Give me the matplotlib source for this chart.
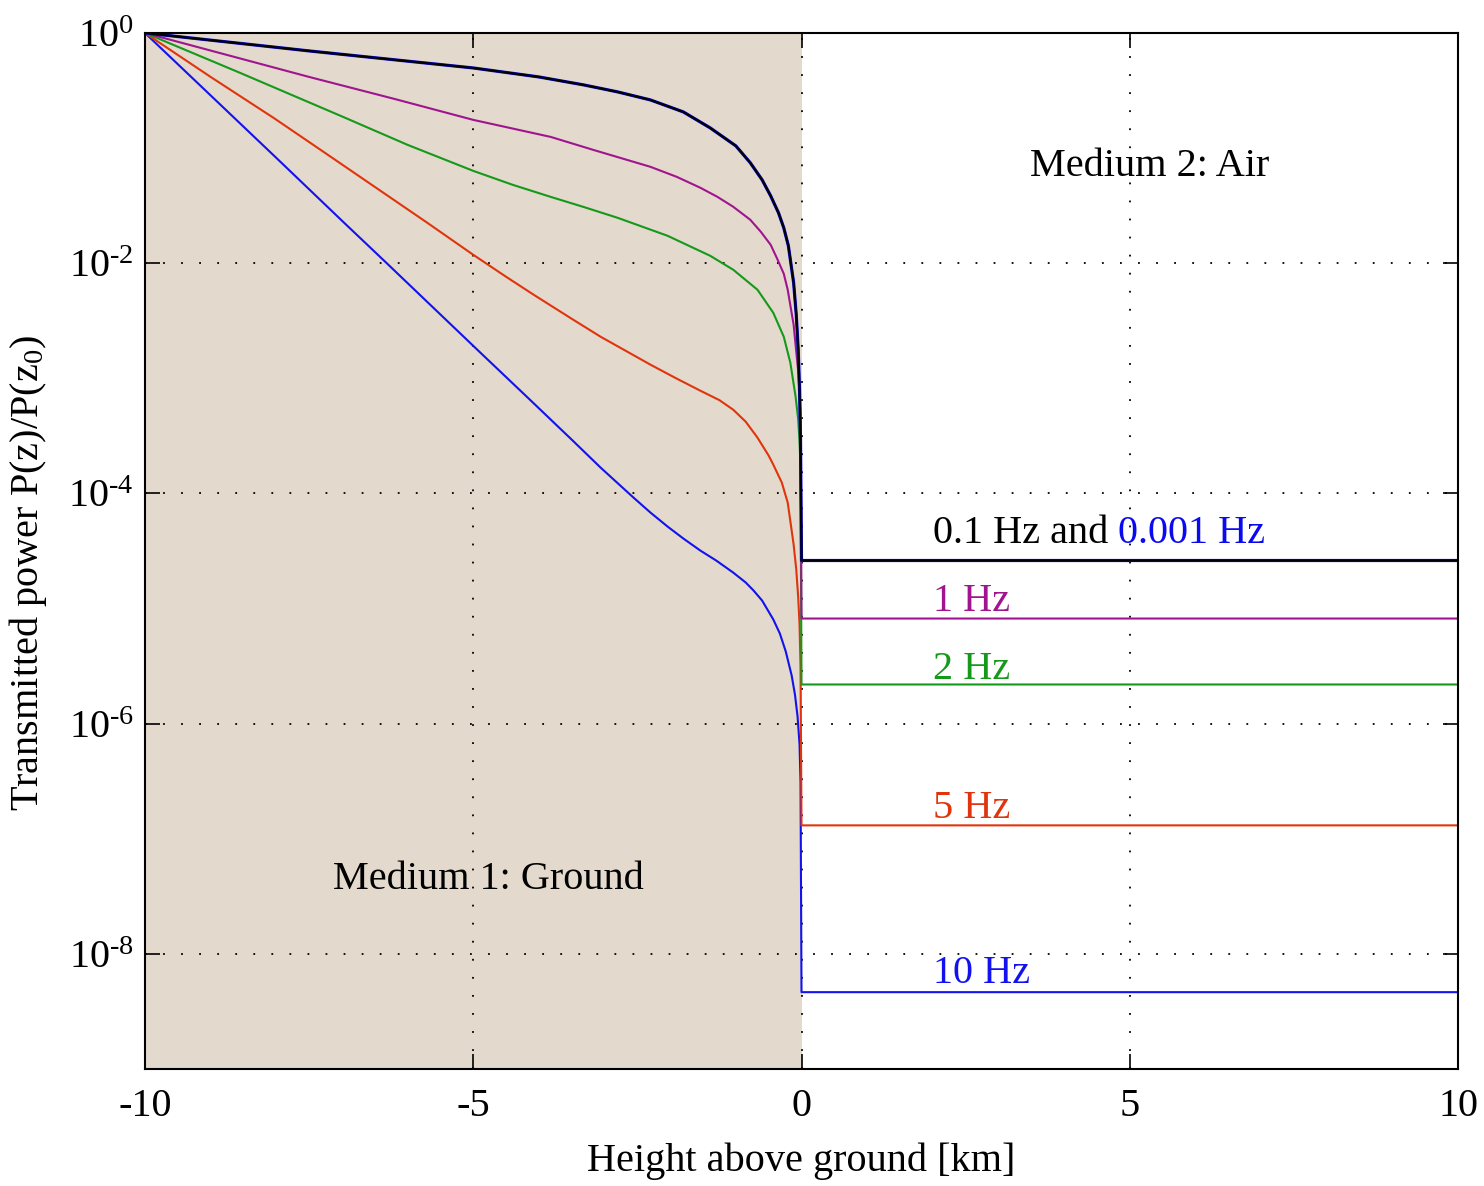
import numpy as np
import matplotlib
matplotlib.use("Agg")
import matplotlib.pyplot as plt
from matplotlib.ticker import NullLocator

plt.rcParams['font.family'] = ['Liberation Serif', 'DejaVu Serif']
plt.rcParams['mathtext.fontset'] = 'custom'
plt.rcParams['mathtext.rm'] = 'Liberation Serif'
plt.rcParams['mathtext.it'] = 'Liberation Serif:italic'

# height above ground [km] and log10 of P(z)/P(z0) for each frequency
z_01 = [-10.0, -7.5, -5.0, -4.0, -3.32, -2.8, -2.3, -1.8, -1.39, -1.0, -0.78, -0.6, -0.47,
        -0.35, -0.27, -0.2, -0.12, -0.08, -0.05, -0.03, -0.015, 0.0, 10.0]
lp_01 = [0.0, -0.156, -0.304, -0.382, -0.451, -0.512, -0.582, -0.686, -0.825, -0.981, -1.128,
         -1.276, -1.415, -1.563, -1.693, -1.849, -2.170, -2.448, -2.752, -3.099, -3.533,
         -4.583, -4.583]

z_1 = [-10.0, -8.75, -7.5, -6.2, -5.0, -3.82, -3.17, -2.3, -1.9, -1.54, -1.28, -1.04, -0.78,
       -0.62, -0.47, -0.37, -0.27, -0.21, -0.12, -0.05, -0.015, 0.0, 10.0]
lp_1 = [0.0, -0.191, -0.382, -0.573, -0.755, -0.903, -1.016, -1.163, -1.250, -1.345, -1.424,
        -1.510, -1.623, -1.727, -1.840, -1.962, -2.092, -2.231, -2.535, -2.943, -3.273,
        -5.087, -5.087]

z_2 = [-10.0, -8.55, -7.02, -6.0, -5.5, -5.0, -4.4, -3.82, -3.3, -2.8, -2.04, -1.39, -1.04,
       -0.67, -0.43, -0.27, -0.17, -0.09, -0.05, -0.03, -0.015, 0.0, 10.0]
lp_2 = [0.0, -0.347, -0.720, -0.972, -1.085, -1.198, -1.319, -1.424, -1.515, -1.606, -1.762,
        -1.936, -2.057, -2.231, -2.431, -2.639, -2.865, -3.160, -3.359, -3.550, -3.767,
        -5.660, -5.660]

z_5 = [-10.0, -9.0, -8.04, -7.37, -6.5, -5.7, -5.0, -4.5, -4.08, -3.5, -3.06, -2.6, -2.3, -1.9,
       -1.54, -1.25, -1.04, -0.85, -0.67, -0.5, -0.43, -0.3, -0.21, -0.12, -0.08, -0.05, -0.03,
       -0.015, 0.0, 10.0]
lp_5 = [0.0, -0.382, -0.738, -0.998, -1.337, -1.649, -1.927, -2.118, -2.274, -2.483, -2.639,
        -2.786, -2.882, -3.003, -3.108, -3.190, -3.273, -3.377, -3.516, -3.672, -3.750, -3.906,
        -4.080, -4.444, -4.661, -4.905, -5.139, -5.503, -6.884, -6.884]

z_10 = [-10.0, -8.0, -6.95, -6.34, -4.89, -4.17, -3.5, -3.06, -2.56, -2.3, -2.04, -1.8, -1.54,
        -1.3, -1.04, -0.85, -0.73, -0.6, -0.43, -0.33, -0.24, -0.15, -0.1, -0.06, -0.03, -0.015,
        0.0, 10.0]
lp_10 = [0.0, -1.085, -1.658, -1.988, -2.778, -3.168, -3.533, -3.776, -4.036, -4.167, -4.288,
         -4.392, -4.497, -4.583, -4.688, -4.774, -4.844, -4.931, -5.095, -5.217, -5.373, -5.582,
         -5.747, -5.938, -6.181, -6.510, -8.333, -8.333]

col_01 = '#000000'
col_001 = '#0a0aef'
col_1 = '#a0148f'
col_2 = '#15991a'
col_5 = '#e0350c'
col_10 = '#1212ee'
ground = '#e3d9cc'

fig = plt.figure(figsize=(14.84, 11.86), dpi=100)
ax = fig.add_axes([0.0977, 0.0987, 0.8848, 0.8735])

ax.axvspan(-10, 0, color=ground, zorder=0, lw=0)

kw = dict(lw=1.5, zorder=3, solid_joinstyle='round')
ax.semilogy(z_10, 10.0 ** np.array(lp_10), color=col_10, **kw)
ax.semilogy(z_5, 10.0 ** np.array(lp_5), color=col_5, **kw)
ax.semilogy(z_2, 10.0 ** np.array(lp_2), color=col_2, **kw)
ax.semilogy(z_1, 10.0 ** np.array(lp_1), color=col_1, **kw)
# 0.001 Hz lies under the 0.1 Hz curve
ax.semilogy(z_01, 10.0 ** np.array(lp_01), color=col_001, lw=2.3, zorder=3,
            solid_joinstyle='round')
ax.semilogy(z_01, 10.0 ** np.array(lp_01), color=col_01, lw=1.6, zorder=4,
            solid_joinstyle='round')

ax.set_xlim(-10, 10)
ax.set_ylim(1e-9, 1)
ax.set_xticks([-10, -5, 0, 5, 10])
ax.set_xticklabels(['-10', '-5', '0', '5', '10'])
ax.set_yticks([1e0, 1e-2, 1e-4, 1e-6, 1e-8])
ax.set_yticklabels(['$10^{0}$', '$10^{\\text{-}2}$', '$10^{\\text{-}4}$',
                    '$10^{\\text{-}6}$', '$10^{\\text{-}8}$'])
ax.yaxis.set_minor_locator(NullLocator())
ax.tick_params(direction='in', length=11, width=1.2, top=True, right=True,
               labelsize=29, colors='black')
ax.tick_params(axis='x', pad=14)
ax.tick_params(axis='y', pad=8)
ax.grid(True, color='black', linestyle=(0, (1, 9)), linewidth=1.3)

for s in ax.spines.values():
    s.set_linewidth(1.5)
    s.set_zorder(5)

ax.set_xlabel('Height above ground [km]', fontsize=29, labelpad=12)
ax.set_ylabel('Transmitted power P(z)/P(z$_0$)', fontsize=29)
ax.yaxis.set_label_coords(-0.073, 0.479)

fs = 29
ax.text(5.3, 5.74e-2, 'Medium 2: Air', fontsize=fs, ha='center', va='baseline')
ax.text(-4.77, 3.64e-8, 'Medium 1: Ground', fontsize=fs, ha='center', va='baseline')
t = ax.text(2.0, 3.74e-5, '0.1 Hz and', fontsize=fs, color=col_01, ha='left', va='baseline')
ax.annotate('0.001 Hz', xy=(1, 0), xycoords=t, xytext=(7, 0), textcoords='offset points',
            fontsize=fs, color=col_001, ha='left', va='bottom')
ax.text(2.0, 9.42e-6, '1 Hz', fontsize=fs, color=col_1, ha='left', va='baseline')
ax.text(2.0, 2.42e-6, '2 Hz', fontsize=fs, color=col_2, ha='left', va='baseline')
ax.text(2.0, 1.50e-7, '5 Hz', fontsize=fs, color=col_5, ha='left', va='baseline')
ax.text(2.0, 5.56e-9, '10 Hz', fontsize=fs, color=col_10, ha='left', va='baseline')

fig.savefig('out.png', dpi=100)
